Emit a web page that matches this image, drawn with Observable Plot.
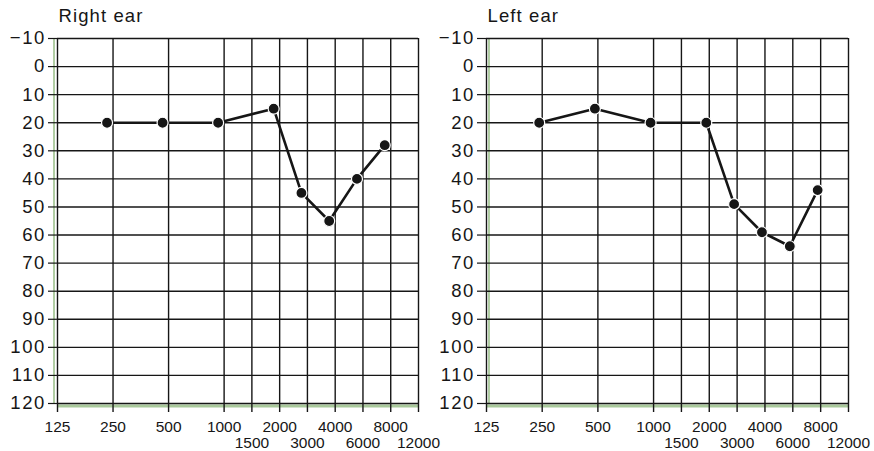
<!DOCTYPE html>
<html>
<head>
<meta charset="utf-8">
<script src="https://cdn.jsdelivr.net/npm/d3@7"></script>
<script src="https://cdn.jsdelivr.net/npm/@observablehq/plot@0.6"></script>
<style>
  html, body { margin: 0; padding: 0; background: #ffffff; }
  #wrap { position: relative; width: 874px; height: 451px; overflow: hidden; background: #fff; }
  .panel { position: absolute; top: 0; }
  .panel svg g[aria-label="y-axis tick label"] text { letter-spacing: 1.6px; }
  .panel svg g[aria-label="text"] text { letter-spacing: 1.1px; }
</style>
</head>
<body>
<div id="wrap">
  <div class="panel" id="right"></div>
  <div class="panel" id="left"></div>
</div>
<script>
// Audiometric frequencies (Hz) and their equally spaced slots on the chart
const freqLabels = [125, 250, 500, 1000, 1500, 2000, 3000, 4000, 6000, 8000, 12000];
const freqSlots  = [0, 2, 4, 6, 7, 8, 9, 10, 11, 12, 13];
// tick label rows
const row1Freqs = [125, 250, 500, 1000, 2000, 4000, 8000];
const row2Freqs = [1500, 3000, 6000, 12000];
// hearing level ticks (dB)
const dbTicks = [-10, 0, 10, 20, 30, 40, 50, 60, 70, 80, 90, 100, 110, 120];

// measured frequencies
const testFreqs = [250, 500, 1000, 2000, 3000, 4000, 6000, 8000];
// thresholds (dB HL)
const rightEar = [20, 20, 20, 15, 45, 55, 40, 28];
const leftEar  = [20, 15, 20, 20, 49, 59, 64, 44];

const slotOf = f => freqSlots[freqLabels.indexOf(f)];
const labelOf = s => String(freqLabels[freqSlots.indexOf(s)]);

function panel(title, values, opts) {
  const data = testFreqs.map((f, i) => ({slot: slotOf(f), db: values[i]}));
  const green = "#a9c99b";
  const ink = "#161616";
  return Plot.plot({
    width: opts.width,
    height: 451,
    marginLeft: opts.marginLeft,
    marginRight: opts.marginRight,
    marginTop: 38,
    marginBottom: 48,
    style: {
      fontFamily: "'Liberation Sans', Arial, Helvetica, sans-serif",
      background: "transparent",
      overflow: "visible",
      color: ink
    },
    x: {domain: [0, 13], axis: null},
    y: {domain: [120, -10], axis: null},
    marks: [
      // faint green scan artifacts along the axes
      Plot.ruleX([0], {stroke: green, strokeWidth: 1.8, dx: opts.greenDx}),
      Plot.ruleY([120], {stroke: green, strokeWidth: 3, dy: 2.5, x1: 0, x2: 13}),
      Plot.gridX(freqLabels.map(slotOf), {stroke: ink, strokeOpacity: 1, strokeWidth: 1.4}),
      Plot.gridY(dbTicks, {stroke: ink, strokeOpacity: 1, strokeWidth: 1.4}),
      Plot.axisY(dbTicks, {
        anchor: "left", tickSize: 9, tickPadding: 2.5, fontSize: 18.5,
        stroke: ink, strokeWidth: 1.2, label: null
      }),
      Plot.axisX(row1Freqs.map(slotOf), {
        anchor: "bottom", tickSize: 9, tickPadding: 8, fontSize: 15.5,
        tickFormat: labelOf, stroke: ink, strokeWidth: 1.4, label: null
      }),
      Plot.axisX(row2Freqs.map(slotOf), {
        anchor: "bottom", tickSize: 9, tickPadding: 24, fontSize: 15.5,
        tickFormat: labelOf, stroke: ink, strokeWidth: 1.4, label: null
      }),
      Plot.line(data, {x: "slot", y: "db", stroke: ink, strokeWidth: 2.6, dx: opts.dx}),
      Plot.dot(data, {x: "slot", y: "db", r: 5.5, fill: ink, stroke: "white", strokeWidth: 1.2, dx: opts.dx}),
      Plot.text([title], {
        frameAnchor: "top-left", textAnchor: "start", lineAnchor: "bottom",
        dy: -16.3, dx: 1, fontSize: 18.5, fill: ink
      })
    ]
  });
}

const r = document.getElementById("right");
r.style.left = "0px";
r.appendChild(panel("Right ear", rightEar, {width: 437, marginLeft: 57, marginRight: 19, dx: -6, greenDx: -3.5}));

const l = document.getElementById("left");
l.style.left = "430px";
l.appendChild(panel("Left ear", leftEar, {width: 444, marginLeft: 56, marginRight: 26, dx: -3, greenDx: 2.5}));
</script>
</body>
</html>
